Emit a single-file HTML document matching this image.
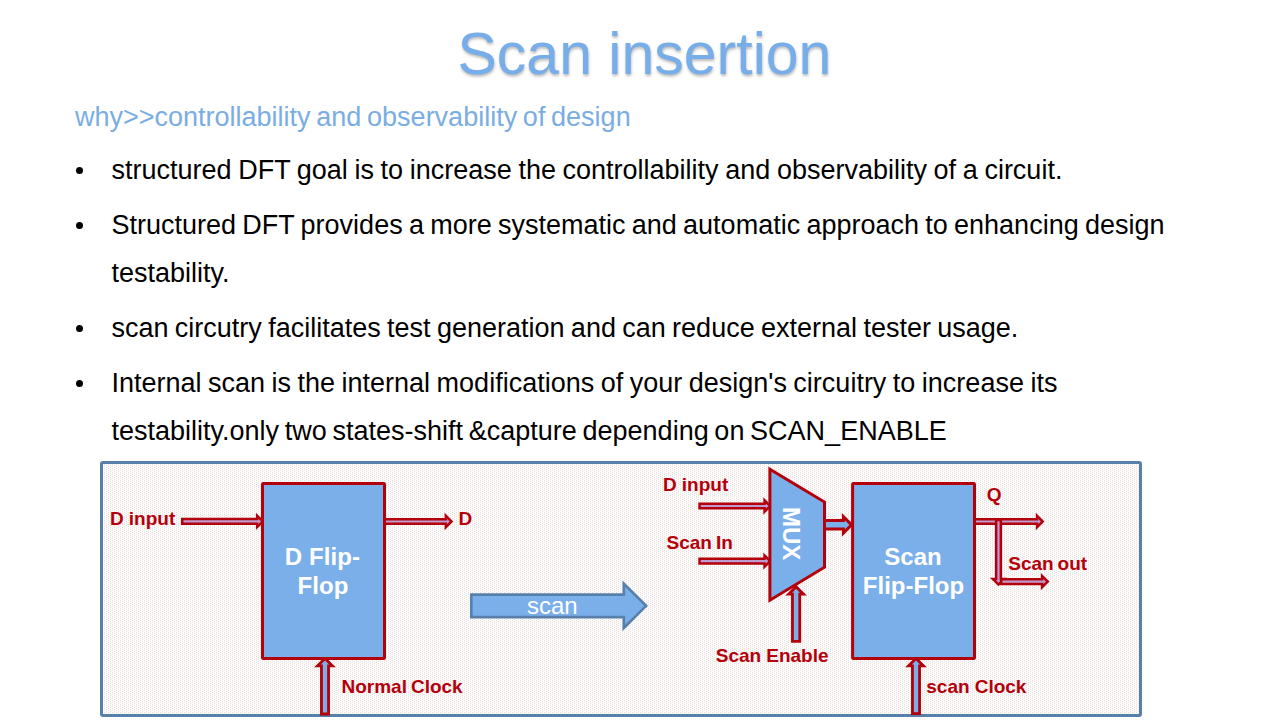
<!DOCTYPE html>
<html><head><meta charset="utf-8"><title>Scan insertion</title>
<style>
html,body{margin:0;padding:0;background:#fff;}
body{width:1280px;height:720px;position:relative;overflow:hidden;font-family:"Liberation Sans",sans-serif;}
.t{position:absolute;white-space:nowrap;line-height:1;}
.b{position:absolute;width:7px;height:7px;border-radius:50%;background:#000;}
svg{position:absolute;left:0;top:0;}
</style></head><body>
<div class="t" style="left:457.5px;top:24.24px;font-size:59px;color:#77ADE9;transform:translateY(0.5px);text-shadow:0.5px 2px 3px rgba(0,0,0,0.28);">Scan insertion</div>
<div class="t" style="left:75.0px;top:104.14px;font-size:27px;color:#7AADE3;word-spacing:-1.793px;">why&gt;&gt;controllability and observability of design</div>
<div class="b" style="left:76px;top:167.3px"></div>
<div class="t" style="left:111.5px;top:157.24px;font-size:27px;color:#000;word-spacing:-0.879px;">structured DFT goal is to increase the controllability and observability of a circuit.</div>
<div class="b" style="left:76px;top:222.3px"></div>
<div class="t" style="left:111.5px;top:212.24px;font-size:27px;color:#000;word-spacing:-1.234px;">Structured DFT provides a more systematic and automatic approach to enhancing design</div>
<div class="t" style="left:111.5px;top:260.24px;font-size:27px;color:#000;">testability.</div>
<div class="b" style="left:76px;top:324.8px"></div>
<div class="t" style="left:111.5px;top:314.74px;font-size:27px;color:#000;word-spacing:-1.170px;">scan circutry facilitates test generation and can reduce external tester usage.</div>
<div class="b" style="left:76px;top:379.8px"></div>
<div class="t" style="left:111.5px;top:369.74px;font-size:27px;color:#000;word-spacing:-1.016px;">Internal scan is the internal modifications of your design's circuitry to increase its</div>
<div class="t" style="left:111.5px;top:417.74px;font-size:27px;color:#000;word-spacing:-1.794px;">testability.only two states-shift &amp;capture depending on SCAN_ENABLE</div>
<svg width="1280" height="720" viewBox="0 0 1280 720">
<defs><pattern id="dots" x="0" y="0" width="4" height="2" patternUnits="userSpaceOnUse"><rect x="0" y="0" width="1" height="1" fill="#E6DFE0"/><rect x="2" y="1" width="1" height="1" fill="#E6DFE0"/></pattern></defs>
<rect x="101.5" y="462.5" width="1039" height="253" rx="1.5" fill="#FEFBFB"/>
<rect x="101.5" y="462.5" width="1039" height="253" rx="1.5" fill="url(#dots)" stroke="#5780AB" stroke-width="3"/>
<polygon points="182.25,519.05 257.15,519.05 257.15,515.75 262.80,521.40 257.15,527.05 257.15,523.75 182.25,523.75" fill="#BE9CD2" stroke="#B4000A" stroke-width="2.5" stroke-linejoin="miter" />
<polygon points="384.00,519.15 445.85,519.15 445.85,515.85 451.50,521.50 445.85,527.15 445.85,523.85 384.00,523.85" fill="#BE9CD2" stroke="#B4000A" stroke-width="2.5" stroke-linejoin="miter" />
<polygon points="699.55,503.65 764.55,503.65 764.55,500.35 770.20,506.00 764.55,511.65 764.55,508.35 699.55,508.35" fill="#BE9CD2" stroke="#B4000A" stroke-width="2.5" stroke-linejoin="miter" />
<polygon points="699.55,558.75 764.55,558.75 764.55,555.45 770.20,561.10 764.55,566.75 764.55,563.45 699.55,563.45" fill="#BE9CD2" stroke="#B4000A" stroke-width="2.5" stroke-linejoin="miter" />
<polygon points="974.00,519.15 1037.05,519.15 1037.05,515.85 1042.70,521.50 1037.05,527.15 1037.05,523.85 974.00,523.85" fill="#BE9CD2" stroke="#B4000A" stroke-width="2.5" stroke-linejoin="miter" />
<polygon points="996.15,519.90 996.15,578.95 992.85,578.95 998.50,584.60 1004.15,578.95 1000.85,578.95 1000.85,519.90" fill="#BE9CD2" stroke="#B4000A" stroke-width="2.5" stroke-linejoin="miter" />
<polygon points="1001.30,579.25 1042.10,579.25 1042.10,575.95 1047.75,581.60 1042.10,587.25 1042.10,583.95 1001.30,583.95" fill="#BE9CD2" stroke="#B4000A" stroke-width="2.5" stroke-linejoin="miter" />
<polygon points="321.45,714.00 321.45,665.85 317.55,665.85 325.00,658.40 332.45,665.85 328.55,665.85 328.55,714.00" fill="#7AAFEA" stroke="#B4000A" stroke-width="2.8" stroke-linejoin="miter" />
<polygon points="792.45,641.30 792.45,594.20 788.70,594.20 796.10,586.80 803.50,594.20 799.75,594.20 799.75,641.30" fill="#7AAFEA" stroke="#B4000A" stroke-width="2.8" stroke-linejoin="miter" />
<polygon points="912.45,713.60 912.45,665.85 908.55,665.85 916.00,658.40 923.45,665.85 919.55,665.85 919.55,713.60" fill="#7AAFEA" stroke="#B4000A" stroke-width="2.8" stroke-linejoin="miter" />
<polygon points="824.00,520.60 843.40,520.60 843.40,516.65 851.60,524.85 843.40,533.05 843.40,529.10 824.00,529.10" fill="#7AAFEA" stroke="#B4000A" stroke-width="3" stroke-linejoin="miter" />
<rect x="262.5" y="483.5" width="122" height="175" rx="0.8" fill="#7AAFEA" stroke="#B4000A" stroke-width="3" stroke-linejoin="miter"/>
<rect x="852.6" y="483.5" width="121.9" height="175" rx="0.8" fill="#7AAFEA" stroke="#B4000A" stroke-width="3"/>
<polygon points="769.90,469.20 824.50,502.00 824.50,567.20 769.90,600.20" fill="#7AAFEA" stroke="#B4000A" stroke-width="3" stroke-linejoin="miter" />
<polygon points="471.30,594.55 623.80,594.55 623.80,583.75 646.10,605.85 623.80,627.95 623.80,617.15 471.30,617.15" fill="#7AAFEA" stroke="#5780AB" stroke-width="2.67" stroke-linejoin="miter" />
</svg>
<div class="t" style="left:110.0px;top:509.11px;font-size:19px;color:#B4000A;font-weight:bold;word-spacing:-0.188px;">D input</div>
<div class="t" style="left:458.6px;top:508.81px;font-size:19px;color:#B4000A;font-weight:bold;">D</div>
<div class="t" style="left:341.5px;top:677.41px;font-size:19px;color:#B4000A;font-weight:bold;word-spacing:-1.319px;">Normal Clock</div>
<div class="t" style="left:663.0px;top:475.41px;font-size:19px;color:#B4000A;font-weight:bold;word-spacing:-0.188px;">D input</div>
<div class="t" style="left:666.5px;top:533.21px;font-size:19px;color:#B4000A;font-weight:bold;word-spacing:-1.219px;">Scan In</div>
<div class="t" style="left:715.8px;top:646.41px;font-size:19px;color:#B4000A;font-weight:bold;word-spacing:-0.247px;">Scan Enable</div>
<div class="t" style="left:986.8px;top:485.41px;font-size:19px;color:#B4000A;font-weight:bold;">Q</div>
<div class="t" style="left:1008.3px;top:553.91px;font-size:19px;color:#B4000A;font-weight:bold;word-spacing:-1.453px;">Scan out</div>
<div class="t" style="left:926.3px;top:677.41px;font-size:19px;color:#B4000A;font-weight:bold;word-spacing:-0.213px;">scan Clock</div>
<div class="t" style="left:527.0px;top:593.98px;font-size:24px;color:#fff;">scan</div>
<div class="t" style="left:172.39999999999998px;width:300px;text-align:center;top:544.68px;font-size:24px;color:#fff;font-weight:bold;letter-spacing:0.1px;">D Flip-</div>
<div class="t" style="left:173.0px;width:300px;text-align:center;top:573.68px;font-size:24px;color:#fff;font-weight:bold;letter-spacing:0.15px;">Flop</div>
<div class="t" style="left:763.0px;width:300px;text-align:center;top:544.68px;font-size:24px;color:#fff;font-weight:bold;">Scan</div>
<div class="t" style="left:763.5px;width:300px;text-align:center;top:573.68px;font-size:24px;color:#fff;font-weight:bold;">Flip-Flop</div>
<div class="t" style="left:803.12px;top:507.2px;font-size:24px;color:#fff;font-weight:bold;transform-origin:0 0;transform:rotate(90deg)">MUX</div>
</body></html>
